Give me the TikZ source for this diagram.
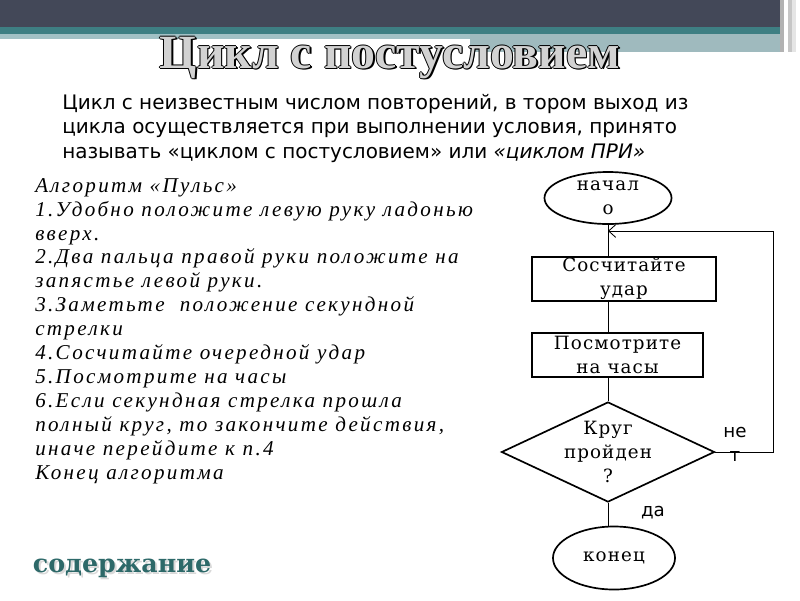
\documentclass[tikz,border=0pt]{standalone}
\usepackage{fontspec}
\setmainfont{DejaVu Serif}
\setsansfont{DejaVu Sans}
\newfontfamily\titlefont{Liberation Serif}
\newfontfamily\stepfont{Liberation Serif}[LetterSpace=11]
\newfontfamily\boxfont{DejaVu Serif}[LetterSpace=6]
\usetikzlibrary{shapes.geometric, arrows.meta}
\definecolor{bandgray}{RGB}{67,72,88}
\definecolor{bandteal}{RGB}{62,127,131}
\definecolor{bandlight}{RGB}{162,193,197}
\definecolor{linkteal}{RGB}{45,105,105}
\tikzset{>={Straight Barb[length=5pt,width=9pt]}}
\tikzset{
  term/.style={draw, line width=1.2pt, ellipse, inner sep=0pt},
  stepbox/.style={draw, line width=1.2pt, rectangle, inner sep=0pt},
  check/.style={draw, line width=1.2pt, diamond, inner sep=0pt},
  boxtext/.style={align=center, inner sep=0pt, font=\boxfont\fontsize{13}{17}\selectfont},
  cond/.style={align=center, inner sep=0pt, font=\sffamily\fontsize{13}{17}\selectfont},
  heading/.style={font=\titlefont\bfseries\fontsize{34}{34}\selectfont, inner sep=0pt},
}

\begin{document}
\begin{tikzpicture}[x=0.025cm, y=-0.025cm]
\fill[white] (0,0) rectangle (800,600);
% top band
\fill[bandgray] (0,0) rectangle (800,27);
\fill[bandteal] (0,27) rectangle (800,34);
\fill[bandlight] (0,34) rectangle (470,39);
\fill[bandlight!90!gray] (470,34) rectangle (780,52);
\foreach \x/\c in {780/gray!60, 784/white, 788/gray!45, 792/gray!20, 796/white}
\fill[\c] (\x,0) rectangle ++(4,52);

% title
\foreach \dx/\dy in {-1/0, 1/0, 0/-1, 0/1, 1.5/1.5}
\node[heading, black] at (390+\dx,58+\dy) {Цикл с постусловием};
\node[heading, gray!35] (title) at (390,58) {Цикл с постусловием};

\node[anchor=north west, align=left, inner sep=0pt, font=\sffamily\fontsize{14.2}{17.4}\selectfont] (intro) at (62,94)
{Цикл с неизвестным числом повторений, в тором выход из\\
цикла осуществляется при выполнении условия, принято\\
называть «циклом с постусловием» или {\itshape «циклом ПРИ»}};

\node[anchor=north west, align=left, inner sep=0pt, font=\stepfont\itshape\fontsize{15}{17}\selectfont] (algo) at (35,178)
{Алгоритм «Пульс»\\
1.Удобно положите левую руку ладонью\\
вверх.\\
2.Два пальца правой руки положите на\\
запястье левой руки.\\
3.Заметьте \ положение секундной\\
стрелки\\
4.Сосчитайте очередной удар\\
5.Посмотрите на часы\\
6.Если секундная стрелка прошла\\
полный круг, то закончите действия,\\
иначе перейдите к п.4\\
Конец алгоритма};

% flowchart
\node[term, minimum width=3.175cm, minimum height=1.3cm] (start) at (608,198) {};
\node[boxtext] at (start) {начал\\о};
\node[stepbox, minimum width=4.6cm, minimum height=1.1cm] (count) at (624,279) {};
\node[boxtext] at (count) {Сосчитайте\\удар};
\node[stepbox, minimum width=4.275cm, minimum height=1.1cm] (watch) at (617.5,355) {};
\node[boxtext] at (watch) {Посмотрите\\на часы};
\node[check, minimum width=5.325cm, minimum height=2.5cm] (round) at (608,452) {};
\node[boxtext, font=\boxfont\fontsize{13}{16.8}\selectfont] at (round) {Круг\\пройден\\?};
\node[term, minimum width=3.05cm, minimum height=1.575cm] (stop) at (614,558) {};
\node[boxtext] at (stop) {конец};

\coordinate (join) at (608,231);
\coordinate (loopR) at (773,452);
\draw[semithick] (start.south) -- (start.south |- count.north);
\draw[semithick] (start.south |- count.south) -- (start.south |- watch.north);
\draw[semithick] (round.north |- watch.south) -- (round.north);
\draw[semithick, ->] (round.east) -- (loopR) |- (join);
\draw[semithick] (round.south) -- (round.south |- stop.north);

\node[cond] (no) at (735,444) {не\\т};
\node[cond] (yes) at (653,513) {да};

% link
\node[font=\bfseries\fontsize{18}{18}\selectfont, gray!30, inner sep=0pt] at (124,570) {содержание};
\node[font=\bfseries\fontsize{18}{18}\selectfont, linkteal, inner sep=0pt] (contents) at (122,568) {содержание};
\end{tikzpicture}
\end{document}
